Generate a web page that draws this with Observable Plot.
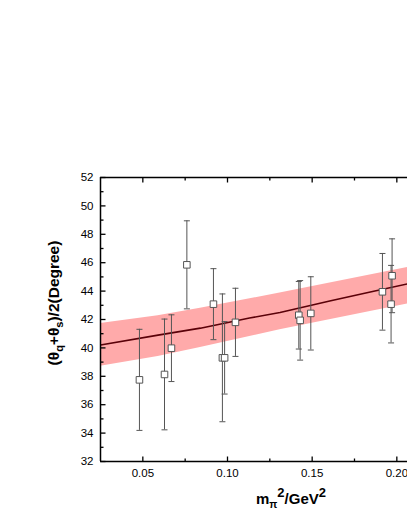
<!DOCTYPE html>
<html><head><meta charset="utf-8">
<script src="https://cdn.jsdelivr.net/npm/d3@7"></script>
<script src="https://cdn.jsdelivr.net/npm/@observablehq/plot@0.6"></script>
<style>
  html,body{margin:0;padding:0;background:#fff}
  svg{display:block}
</style>
</head><body><div id="chart"></div>
<script>
// ---- data ----
const mpi2  = [0.048, 0.0628, 0.0669, 0.076, 0.0917, 0.097, 0.0983, 0.1047, 0.1421, 0.1429, 0.1492, 0.1915, 0.1972, 0.1966];
const theta = [37.75, 38.13, 39.98, 45.85, 43.08, 39.30, 39.30, 41.80, 42.30, 41.94, 42.43, 43.95, 45.08, 43.08];
const err   = [3.56, 3.90, 2.35, 3.10, 2.50, 4.50, 2.55, 2.40, 2.38, 2.80, 2.58, 2.70, 2.60, 2.73];

const fitX = [0.025, 0.059, 0.084, 0.113, 0.131, 0.161, 0.185, 0.21];
const fitY = [40.20, 40.90, 41.39, 42.10, 42.49, 43.32, 43.95, 44.60];

const bandX  = [0.025, 0.059, 0.084, 0.131, 0.2063, 0.21];
const bandLo = [38.70, 39.40, 40.03, 41.27, 43.10, 43.20];
const bandHi = [41.72, 42.26, 42.80, 43.86, 45.66, 45.75];

const yMajor = [32, 34, 36, 38, 40, 42, 44, 46, 48, 50, 52];
const yMinor = [33, 35, 37, 39, 41, 43, 45, 47, 49, 51];
const xMajor = [0.05, 0.10, 0.15, 0.20];
const xMinor = [0.075, 0.125, 0.175];
const xDomain = [0.025, 0.2063];
const yDomain = [32, 52];

// ---- tables built from the arrays ----
const points = mpi2.map((x, i) => ({x, y: theta[i], lo: theta[i] - err[i], hi: theta[i] + err[i]}));
const fit = fitX.map((x, i) => ({x, y: fitY[i]}));
const band = bandX.map((x, i) => ({x, lo: bandLo[i], hi: bandHi[i]}));

// custom symbols
const cap = {draw(c) { c.moveTo(-3, 0); c.lineTo(3, 0); }};
const tickRight = (len) => ({draw(c) { c.moveTo(0, 0); c.lineTo(len, 0); }});
const tickUp = (len) => ({draw(c) { c.moveTo(0, 0); c.lineTo(0, -len); }});
const tickDown = (len) => ({draw(c) { c.moveTo(0, 0); c.lineTo(0, len); }});

const axisStroke = {stroke: "#000", strokeWidth: 1.3, fill: "none"};

const chart = Plot.plot({
  width: 407,
  height: 527,
  marginLeft: 100,
  marginTop: 177,
  marginRight: 0,
  marginBottom: 66,
  x: {domain: xDomain},
  y: {domain: yDomain},
  style: {fontFamily: "'Liberation Sans', Arial, sans-serif", fontSize: "11.5px", color: "#000", background: "#fff"},
  marks: [
    Plot.areaY(band, {x: "x", y1: "lo", y2: "hi", fill: "#ffaaaa", clip: true}),
    Plot.line(fit, {x: "x", y: "y", stroke: "#5a0008", strokeWidth: 1.6, clip: true}),
    Plot.ruleX(points, {x: "x", y1: "lo", y2: "hi", stroke: "#555", strokeWidth: 1}),
    Plot.dot(points, {x: "x", y: "hi", symbol: cap, r: 3, stroke: "#555", fill: "none", strokeWidth: 1}),
    Plot.dot(points, {x: "x", y: "lo", symbol: cap, r: 3, stroke: "#555", fill: "none", strokeWidth: 1}),
    Plot.dot(points, {x: "x", y: "y", symbol: "square", r: 3.7, fill: "#fff", stroke: "#555", strokeWidth: 1}),
    // frame (left, top, bottom)
    Plot.ruleY([yDomain[0], yDomain[1]], {stroke: "#000", strokeWidth: 1.5}),
    Plot.ruleX([xDomain[0]], {stroke: "#000", strokeWidth: 1.5}),
    // inward ticks
    Plot.dot(yMajor, {x: () => xDomain[0], y: d => d, symbol: tickRight(5), ...axisStroke}),
    Plot.dot(yMinor, {x: () => xDomain[0], y: d => d, symbol: tickRight(3), ...axisStroke}),
    Plot.dot(xMajor, {x: d => d, y: () => yDomain[0], symbol: tickUp(5), ...axisStroke}),
    Plot.dot(xMinor, {x: d => d, y: () => yDomain[0], symbol: tickUp(3), ...axisStroke}),
    Plot.dot(xMajor, {x: d => d, y: () => yDomain[1], symbol: tickDown(5), ...axisStroke}),
    Plot.dot(xMinor, {x: d => d, y: () => yDomain[1], symbol: tickDown(3), ...axisStroke}),
    // tick labels
    Plot.axisY(yMajor, {anchor: "left", tickSize: 0, tickPadding: 7, label: null, fontSize: 11.5}),
    Plot.axisX(xMajor, {anchor: "bottom", tickSize: 0, tickPadding: 7, tickFormat: d3.format(".2f"), label: null, fontSize: 11.5})
  ]
});

document.getElementById("chart").appendChild(chart);

// axis titles with sub/superscripts
const svg = d3.select(chart);
const yt = svg.append("text")
  .attr("transform", "translate(59,303) rotate(-90)")
  .attr("text-anchor", "middle")
  .attr("font-family", "'Liberation Sans', Arial, sans-serif")
  .attr("font-weight", "bold")
  .attr("font-size", 15.5)
  .attr("fill", "#000");
yt.append("tspan").text("(θ");
yt.append("tspan").attr("font-size", 11).attr("dy", 4).text("q");
yt.append("tspan").attr("dy", -4).text("+θ");
yt.append("tspan").attr("font-size", 11).attr("dy", 4).text("s");
yt.append("tspan").attr("dy", -4).text(")/2(Degree)");

const xt = svg.append("text")
  .attr("x", 291).attr("y", 504)
  .attr("text-anchor", "middle")
  .attr("font-family", "'Liberation Sans', Arial, sans-serif")
  .attr("font-weight", "bold")
  .attr("font-size", 15)
  .attr("fill", "#000");
xt.append("tspan").text("m");
xt.append("tspan").attr("font-size", 10.5).attr("dy", 4).text("π");
xt.append("tspan").attr("font-size", 13).attr("dy", -11).text("2");
xt.append("tspan").attr("dy", 7).text("/GeV");
xt.append("tspan").attr("font-size", 13).attr("dy", -7).text("2");
</script>
</body></html>
